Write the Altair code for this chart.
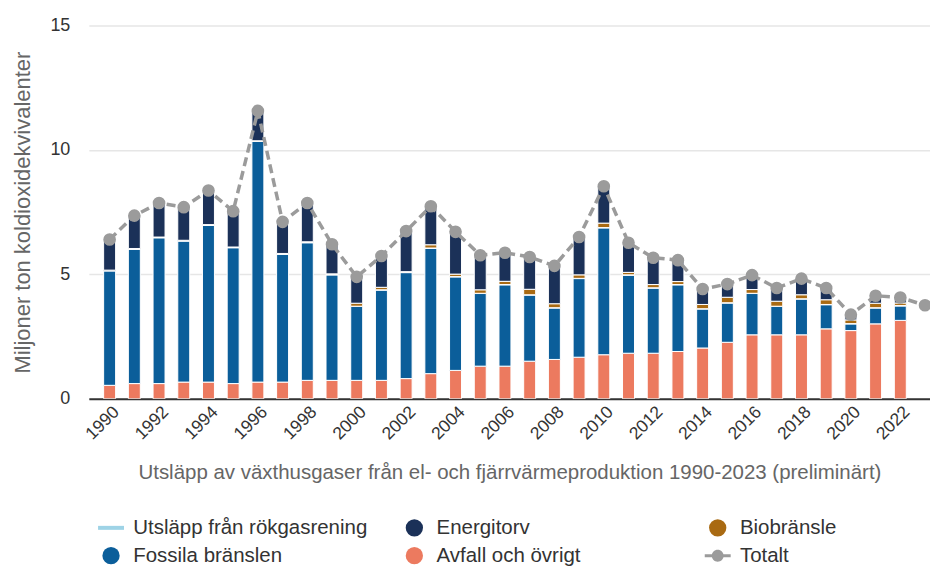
import altair as alt
import pandas as pd

# ---- data (Mt CO2e) ----
years = list(range(1990, 2023))
avfall = [0.54, 0.61, 0.61, 0.67, 0.67, 0.61, 0.67, 0.67, 0.74, 0.74,
          0.74, 0.74, 0.81, 1.01, 1.14, 1.31, 1.31, 1.51, 1.58, 1.67,
          1.77, 1.83, 1.83, 1.90, 2.04, 2.27, 2.57, 2.57, 2.57, 2.81,
          2.74, 3.01, 3.15]
fossila = [4.60, 5.40, 5.86, 5.67, 6.30, 5.46, 9.67, 5.14, 5.53, 4.24,
           2.97, 3.63, 4.26, 5.04, 3.76, 2.92, 3.27, 2.66, 2.07, 3.16,
           5.10, 3.14, 2.62, 2.68, 1.57, 1.58, 1.66, 1.14, 1.44, 0.97,
           0.27, 0.64, 0.58]
rokgas = [0.01, 0.01, 0.01, 0.01, 0.01, 0.01, 0.01, 0.01, 0.01, 0.01,
          0.01, 0.01, 0.01, 0.01, 0.01, 0.01, 0.01, 0.01, 0.01, 0.01,
          0.01, 0.01, 0.01, 0.01, 0.01, 0.01, 0.01, 0.01, 0.01, 0.01,
          0.01, 0.01, 0.02]
bio = [0.02, 0.02, 0.02, 0.02, 0.02, 0.02, 0.02, 0.02, 0.03, 0.03,
       0.12, 0.10, 0.03, 0.13, 0.10, 0.14, 0.13, 0.22, 0.16, 0.14,
       0.18, 0.10, 0.13, 0.12, 0.17, 0.22, 0.15, 0.20, 0.16, 0.19,
       0.15, 0.18, 0.10]
torv = [1.23, 1.32, 1.37, 1.33, 1.37, 1.44, 1.20, 1.27, 1.56, 1.19,
        1.06, 1.25, 1.63, 1.55, 1.70, 1.39, 1.15, 1.30, 1.52, 1.52,
        1.48, 1.19, 1.08, 0.86, 0.62, 0.53, 0.58, 0.53, 0.65, 0.47,
        0.21, 0.30, 0.22]
total_years = list(range(1990, 2024))
totalt = [6.40, 7.36, 7.87, 7.70, 8.37, 7.54, 11.57, 7.11, 7.87, 6.21,
          4.90, 5.74, 6.74, 7.74, 6.71, 5.77, 5.87, 5.70, 5.34, 6.50,
          8.54, 6.27, 5.67, 5.57, 4.41, 4.61, 4.97, 4.45, 4.83, 4.45,
          3.38, 4.14, 4.07, 3.76]

stack_order = ["Avfall och övrigt", "Fossila bränslen", "Utsläpp från rökgasrening",
               "Biobränsle", "Energitorv"]
legend_order = ["Utsläpp från rökgasrening", "Energitorv", "Biobränsle",
                "Fossila bränslen", "Avfall och övrigt", "Totalt"]
legend_colors = ["#9ed3e6", "#1b3158", "#a96a12", "#0b5e9a", "#ec7a5f", "#9b9b9b"]

line_sym = "M-1.5,-0.23L1.5,-0.23L1.5,0.23L-1.5,0.23Z"
total_sym = ("M-1.5,-0.17L1.5,-0.17L1.5,0.17L-1.5,0.17Z "
             "M-0.69,0A0.69,0.69 0 1,1 0.69,0A0.69,0.69 0 1,1 -0.69,0Z")
legend_shapes = [line_sym, "circle", "circle", "circle", "circle", total_sym]

series_values = {
    "Avfall och övrigt": avfall,
    "Fossila bränslen": fossila,
    "Utsläpp från rökgasrening": rokgas,
    "Biobränsle": bio,
    "Energitorv": torv,
}
rows = []
for name, vals in series_values.items():
    for y, v in zip(years, vals):
        rows.append({"År": y, "Serie": name, "Värde": v,
                     "ordning": stack_order.index(name)})
bars_df = pd.DataFrame(rows)
tot_df = pd.DataFrame({"År": total_years, "Totalt": totalt})
leg_df = pd.DataFrame({"Serie": legend_order})

FONT = "Liberation Sans"

color_scale = alt.Scale(domain=legend_order, range=legend_colors)
shape_scale = alt.Scale(domain=legend_order, range=legend_shapes)
legend = alt.Legend(
    title=None, orient="none", legendX=12, legendY=493, columns=3,
    direction="horizontal",
    gridAlign="all", columnPadding=33, rowPadding=7, padding=0,
    labelFont=FONT, labelFontSize=20.5, labelColor="#333333", labelLimit=400,
    labelOffset=12, symbolSize=300, symbolOpacity=1, symbolStrokeWidth=0,
)

x_scale = alt.Scale(domain=[1989.36, 2023.0], nice=False, zero=False)
x_axis = alt.Axis(
    values=list(range(1990, 2023, 2)), format="d", labelAngle=-45,
    grid=False, ticks=False, domainColor="#333333", domainWidth=2,
    labelFont=FONT, labelFontSize=17.5, labelColor="#333333", labelPadding=4,
    title="Utsläpp av växthusgaser från el- och fjärrvärmeproduktion 1990-2023 (preliminärt)",
    titleFont=FONT, titleFontSize=20.5, titleColor="#666666",
    titleFontWeight="normal", titlePadding=20,
)
y_scale = alt.Scale(domain=[0, 15], nice=False)
y_axis = alt.Axis(
    values=[0, 5, 10, 15], ticks=False, domain=False,
    gridColor="#e6e6e6", gridWidth=1.5,
    labelFont=FONT, labelFontSize=18, labelColor="#333333", labelPadding=19,
    title="Miljoner ton koldioxidekvivalenter", titleFont=FONT,
    titleFontSize=22, titleColor="#666666", titleFontWeight="normal",
    titlePadding=15,
)

bars = alt.Chart(bars_df).mark_bar(size=12, stroke="white", strokeWidth=1, clip=True).encode(
    x=alt.X("År:Q", scale=x_scale, axis=x_axis),
    y=alt.Y("Värde:Q", stack="zero", scale=y_scale, axis=y_axis),
    color=alt.Color("Serie:N", scale=color_scale, legend=legend),
    order=alt.Order("ordning:Q", sort="ascending"),
)

line = alt.Chart(tot_df).mark_line(
    color="#9b9b9b", strokeWidth=3.5, strokeDash=[9, 5], clip=True
).encode(x="År:Q", y="Totalt:Q")

points = alt.Chart(tot_df).mark_circle(
    color="#9b9b9b", size=160, opacity=1, clip=True
).encode(x="År:Q", y="Totalt:Q")

leg_layer = alt.Chart(leg_df).mark_point(filled=True, opacity=0).encode(
    color=alt.Color("Serie:N", scale=color_scale, legend=legend),
    shape=alt.Shape("Serie:N", scale=shape_scale, legend=legend),
)

chart = alt.layer(bars, line, points, leg_layer).properties(
    width=843, height=374,
    padding={"left": 3, "top": 8, "right": 0, "bottom": 0},
).configure_view(stroke=None)

chart.save("out.html", embed_options={"renderer": "svg", "actions": False})
